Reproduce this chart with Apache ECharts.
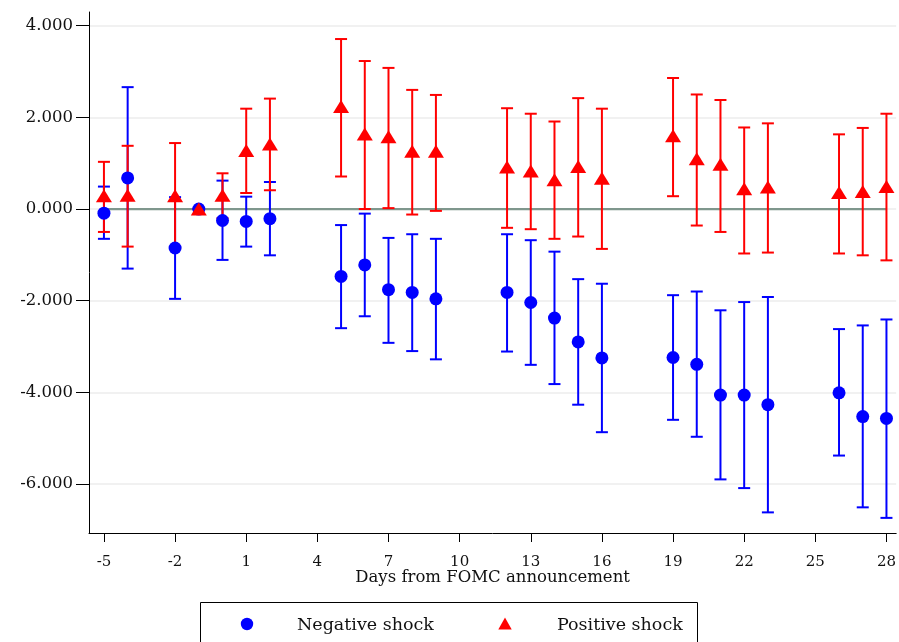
<!DOCTYPE html>
<html>
<head>
<meta charset="utf-8">
<script src="https://cdn.jsdelivr.net/npm/echarts@6/dist/echarts.min.js"></script>
<style>
  html, body { margin: 0; padding: 0; background: #fff; }
  #chart { width: 899px; height: 642px; }
</style>
</head>
<body>
<div id="chart"></div>
<script>
// Days relative to the FOMC announcement
const days = [-5, -4, -2, -1, 0, 1, 2, 5, 6, 7, 8, 9, 12, 13, 14, 15, 16, 19, 20, 21, 22, 23, 26, 27, 28];

// Negative shock: point estimate and confidence band
const negEst = [-0.09, 0.68, -0.85, 0, -0.25, -0.27, -0.21, -1.47, -1.22, -1.76, -1.82, -1.96, -1.82, -2.04, -2.38, -2.90, -3.25, -3.24, -3.39, -4.06, -4.06, -4.27, -4.01, -4.53, -4.57];
const negLo  = [-0.65, -1.30, -1.96, 0, -1.11, -0.82, -1.01, -2.60, -2.34, -2.92, -3.10, -3.28, -3.11, -3.40, -3.82, -4.27, -4.87, -4.60, -4.97, -5.90, -6.09, -6.62, -5.38, -6.51, -6.74];
const negHi  = [0.49, 2.66, 0.26, 0, 0.62, 0.27, 0.59, -0.35, -0.10, -0.63, -0.55, -0.65, -0.55, -0.68, -0.93, -1.53, -1.63, -1.88, -1.80, -2.21, -2.03, -1.92, -2.62, -2.54, -2.41];

// Positive shock: point estimate and confidence band
const posEst = [0.29, 0.30, 0.29, 0, 0.30, 1.28, 1.42, 2.24, 1.64, 1.58, 1.26, 1.26, 0.92, 0.83, 0.64, 0.93, 0.67, 1.60, 1.10, 0.98, 0.44, 0.48, 0.36, 0.38, 0.49];
const posLo  = [-0.50, -0.82, -0.85, 0, -0.20, 0.35, 0.41, 0.71, 0.00, 0.02, -0.12, -0.04, -0.41, -0.44, -0.65, -0.60, -0.87, 0.28, -0.36, -0.50, -0.97, -0.95, -0.97, -1.01, -1.12];
const posHi  = [1.03, 1.38, 1.44, 0, 0.78, 2.19, 2.41, 3.71, 3.23, 3.08, 2.60, 2.49, 2.20, 2.08, 1.91, 2.42, 2.19, 2.86, 2.50, 2.38, 1.78, 1.87, 1.63, 1.77, 2.08];

// Axis ticks
const xTicks = [-5, -2, 1, 4, 7, 10, 13, 16, 19, 22, 25, 28];
const yTicks = [-6, -4, -2, 0, 2, 4];

const seriesNames = ['Negative shock', 'Positive shock'];
const FONT = 'DejaVu Serif';
const TEXT = '#111';
const BLUE = '#0000ff';
const RED = '#ff0000';

function capBars(lo, hi, color) {
  return {
    type: 'custom',
    z: 3,
    silent: true,
    data: days.map((d, i) => [d, lo[i], hi[i]]),
    encode: { x: 0, y: [1, 2] },
    renderItem: function (params, api) {
      const x = api.value(0);
      const pLo = api.coord([x, api.value(1)]);
      const pHi = api.coord([x, api.value(2)]);
      const half = 6;
      const style = { stroke: color, lineWidth: 2, fill: null };
      return {
        type: 'group',
        children: [
          { type: 'line', shape: { x1: pLo[0], y1: pLo[1], x2: pHi[0], y2: pHi[1] }, style: style },
          { type: 'line', shape: { x1: pLo[0] - half, y1: pLo[1], x2: pLo[0] + half, y2: pLo[1] }, style: style },
          { type: 'line', shape: { x1: pHi[0] - half, y1: pHi[1], x2: pHi[0] + half, y2: pHi[1] }, style: style }
        ]
      };
    }
  };
}

// Boxed legend below the plot
const legendGraphic = {
  type: 'group',
  left: 200,
  top: 602,
  children: [
    { type: 'rect', shape: { x: 0.5, y: 0.5, width: 497, height: 60 }, style: { fill: '#fff', stroke: '#000', lineWidth: 1 } },
    { type: 'circle', shape: { cx: 47, cy: 22, r: 6.2 }, style: { fill: BLUE } },
    { type: 'text', x: 97, y: 23, style: { text: seriesNames[0], font: '17.5px "' + FONT + '"', fill: TEXT, verticalAlign: 'middle', align: 'left' } },
    { type: 'polygon', shape: { points: [[305, 15.5], [311.7, 27.5], [298.3, 27.5]] }, style: { fill: RED } },
    { type: 'text', x: 357, y: 23, style: { text: seriesNames[1], font: '17.5px "' + FONT + '"', fill: TEXT, verticalAlign: 'middle', align: 'left' } }
  ]
};

const chart = echarts.init(document.getElementById('chart'), null, { renderer: 'canvas' });

chart.setOption({
  backgroundColor: '#ffffff',
  animation: false,
  grid: { left: 89, right: 0, top: 12, bottom: 109, containLabel: false },
  graphic: [legendGraphic],
  xAxis: {
    type: 'value',
    min: -5.63,
    max: 28.41,
    name: 'Days from FOMC announcement',
    nameLocation: 'middle',
    nameGap: 36,
    nameMoveOverlap: false,
    nameTextStyle: { fontFamily: FONT, fontSize: 16.5, color: TEXT },
    axisLine: { show: true, onZero: false, lineStyle: { color: '#000', width: 1 } },
    axisTick: { show: true, length: 9, customValues: xTicks, lineStyle: { color: '#000' } },
    axisLabel: { customValues: xTicks, margin: 22, fontFamily: FONT, fontSize: 15, color: TEXT },
    splitLine: { show: false }
  },
  yAxis: {
    type: 'value',
    min: -7.07,
    max: 4.30,
    axisLine: { show: true, onZero: false, lineStyle: { color: '#000', width: 1 } },
    axisTick: { show: true, length: 13, customValues: yTicks, lineStyle: { color: '#000' } },
    axisLabel: {
      customValues: yTicks,
      margin: 16,
      fontFamily: FONT,
      fontSize: 16.5,
      color: TEXT,
      formatter: v => v.toFixed(3)
    },
    splitLine: { show: false }
  },
  series: [
    {
      // horizontal reference lines at each y tick
      type: 'line',
      z: 0,
      data: [],
      silent: true,
      markLine: {
        z: 0,
        silent: true,
        symbol: 'none',
        label: { show: false },
        lineStyle: { color: '#ececec', width: 1.5, type: 'solid' },
        data: yTicks.map(v => ({ yAxis: v }))
      }
    },
    {
      // zero line across the event window
      type: 'line',
      z: 1,
      silent: true,
      symbol: 'none',
      data: [[days[0], 0], [days[days.length - 1], 0]],
      lineStyle: { color: '#7f978d', width: 2.2 }
    },
    capBars(negLo, negHi, BLUE),
    {
      name: seriesNames[0],
      type: 'scatter',
      z: 4,
      symbol: 'circle',
      symbolSize: 13,
      itemStyle: { color: BLUE, opacity: 1 },
      data: days.map((d, i) => [d, negEst[i]])
    },
    capBars(posLo, posHi, RED),
    {
      name: seriesNames[1],
      type: 'scatter',
      z: 6,
      symbol: 'triangle',
      symbolSize: [16, 13],
      itemStyle: { color: RED, opacity: 1 },
      data: days.map((d, i) => [d, posEst[i]])
    }
  ]
});
</script>
</body>
</html>
